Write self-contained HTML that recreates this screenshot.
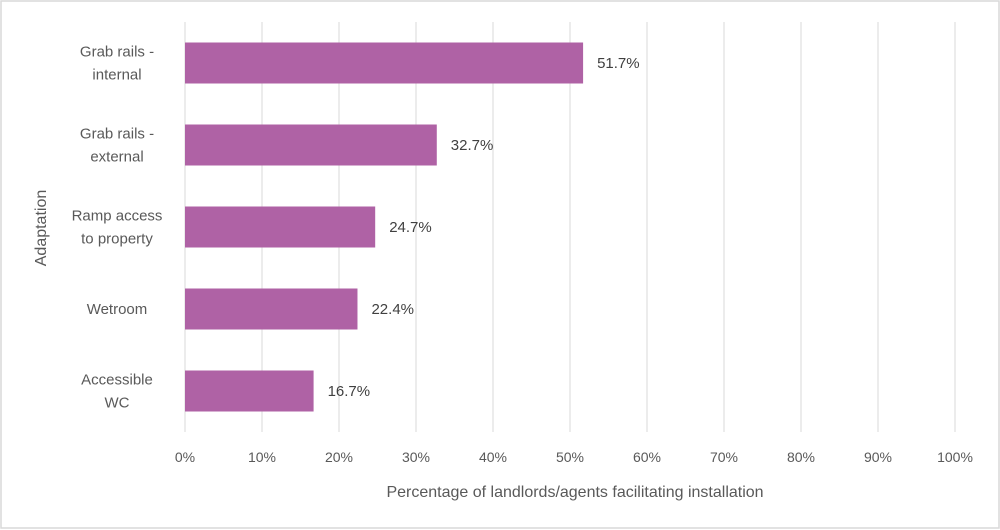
<!DOCTYPE html>
<html><head><meta charset="utf-8"><style>
body{margin:0;background:#fff;}
svg{display:block;font-family:"Liberation Sans",sans-serif;}
</style></head><body>
<svg id="chart" width="1000" height="530">
<rect x="1" y="1" width="998" height="527" fill="#fff" stroke="#d9d9d9" stroke-width="1.5"/>
<g id="grid"></g>
<g id="bars"></g>
<g id="xticks"></g>
<g id="ylabels"></g>
<text x="575" y="497" text-anchor="middle" font-size="16" fill="#595959">Percentage of landlords/agents facilitating installation</text>
<text transform="translate(46,228) rotate(-90)" text-anchor="middle" font-size="16" fill="#595959">Adaptation</text>
</svg>
<script>
const categories=[["Grab rails -","internal"],["Grab rails -","external"],["Ramp access","to property"],["Wetroom"],["Accessible","WC"]];
const values=[51.7,32.7,24.7,22.4,16.7];
const tickValues=[0,10,20,30,40,50,60,70,80,90,100];
const x0=185,x1=955,yTop=22,yBot=432;
const xs=v=>x0+(x1-x0)*v/100;
const band=(yBot-yTop)/categories.length;
const ns="http://www.w3.org/2000/svg";
function mk(tag,parent,attrs){const e=document.createElementNS(ns,tag);for(const k in attrs)e.setAttribute(k,attrs[k]);parent.appendChild(e);return e;}
const g=document.getElementById('grid'),b=document.getElementById('bars'),xt=document.getElementById('xticks'),yl=document.getElementById('ylabels');
tickValues.forEach(t=>{
 const l=mk('line',g,{x1:xs(t),x2:xs(t),y1:yTop,y2:yBot,stroke:'#d9d9d9','stroke-width':1});
 
 
 const tx=mk('text',xt,{x:xs(t),y:462,'text-anchor':'middle','font-size':14,fill:'#595959'});
 tx.textContent=t+'%';
 
 
});
categories.forEach((c,i)=>{
 const cy=yTop+band*(i+0.5);
 const r=mk('rect',b,{x:xs(0),y:cy-20.5,width:xs(values[i])-xs(0),height:41,fill:'#af62a5'});
 
 
 const v=mk('text',b,{x:xs(values[i])+14,y:cy+5,'font-size':15,fill:'#404040'});
 v.textContent=values[i]+'%';
 
 
 const lab=mk('text',yl,{x:(c.length>1?117:116),'text-anchor':'middle','font-size':15,fill:'#595959'});
 
 
 c.forEach((line,j)=>{
  const ts=mk('tspan',lab,{x:117,y:cy+5+(j-(c.length-1)/2)*23});
  ts.textContent=line;
 });
});
</script>
</body></html>
